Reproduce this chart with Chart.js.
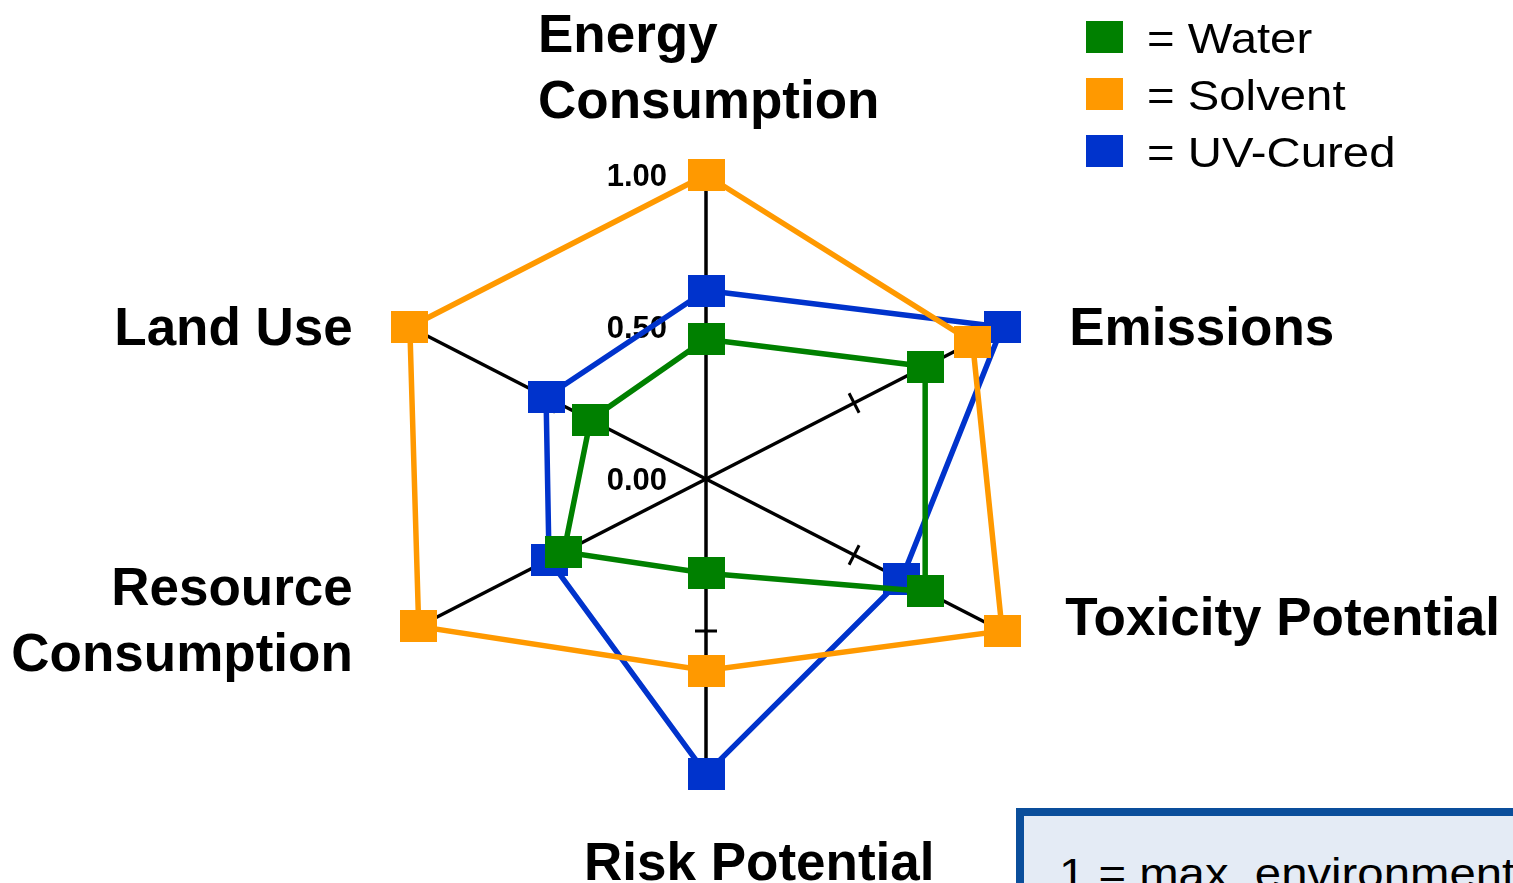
<!DOCTYPE html>
<html>
<head>
<meta charset="utf-8">
<title>Environmental profile of coating systems</title>
<script src="https://cdn.jsdelivr.net/npm/chart.js@4.4.1/dist/chart.umd.min.js"></script>
<style>
  html, body { margin: 0; padding: 0; background: #fff; overflow: hidden; }
  #wrap { position: relative; width: 1513px; height: 883px; overflow: hidden; }
  #radar { position: absolute; left: 0; top: 0; }
  #legend { position: absolute; left: 1086px; top: 21px; font-family: "Liberation Sans", Arial, sans-serif; }
  #legend .item { position: relative; height: 57px; width: 400px; }
  #legend .swatch { position: absolute; left: 0; top: 0; width: 37px; height: 32px; }
  #legend .name { position: absolute; left: 61px; top: -4px; font-size: 43px; line-height: 43px;
                  white-space: nowrap; transform: scaleX(1.1); transform-origin: left center; }
  #note { position: absolute; left: 1016px; top: 808px; width: 700px; height: 200px; box-sizing: border-box;
          border: 8px solid #0A4E9B; background: #E4EBF5; padding: 36px 0 0 35px;
          font-family: "Liberation Sans", Arial, sans-serif; font-size: 43px; line-height: 43px; }
  #note span { display: inline-block; white-space: nowrap; transform: scaleX(1.1); transform-origin: left center; }
</style>
</head>
<body>
<div id="wrap">
  <canvas id="radar" width="1513" height="883"></canvas>
  <div id="legend"></div>
  <div id="note"><span>1 = max. environmental impact</span></div>
</div>
<script>
// impact categories, clockwise from the top
const LABELS = [
  ["Energy", "Consumption"],
  "Emissions",
  "Toxicity Potential",
  "Risk Potential",
  ["Resource", "Consumption"],
  "Land Use",
];

// normalised impact per coating system (1 = max.)
const WATER = [0.46, 0.74, 0.74, 0.31, 0.48, 0.39];
const SOLVENT = [1.00, 0.90, 1.00, 0.63, 0.97, 1.00];
const UV_CURED = [0.62, 1.00, 0.66, 0.97, 0.53, 0.54];

const SERIES_NAMES = ["Water", "Solvent", "UV-Cured"];
const SERIES_COLORS = ["#008000", "#FF9900", "#0033CC"];

const TICK_VALUES = [1, 0.5, 0];
const TICK_LABELS = ["1.00", "0.50", "0.00"];

// the web is drawn a bit wider than it is tall
const X_STRETCH = 1.125;

class WideRadialScale extends Chart.RadialLinearScale {
  getPointPosition(index, distanceFromCenter, additionalAngle = 0) {
    const pos = super.getPointPosition(index, distanceFromCenter, additionalAngle);
    pos.x = this.xCenter + (pos.x - this.xCenter) * X_STRETCH;
    return pos;
  }
}
WideRadialScale.id = "wideRadial";
WideRadialScale.defaults = Chart.RadialLinearScale.defaults;
Chart.register(WideRadialScale);

// filled block used as point marker
function blockMarker(color) {
  const c = document.createElement("canvas");
  c.width = 37;
  c.height = 32;
  const g = c.getContext("2d");
  g.fillStyle = color;
  g.fillRect(0, 0, c.width, c.height);
  return c;
}

// where each axis title sits, relative to the end of its axis
const TITLE_PLACEMENT = [
  { dx: -168, dy: -123, align: "left" },
  { dx: 67, dy: 18, align: "left" },
  { dx: 63, dy: 4, align: "left" },
  { dx: -122, dy: 97, align: "left" },
  { dx: -57, dy: -26, align: "right" },
  { dx: -57, dy: 18, align: "right" },
];

const axisExtras = {
  id: "axisExtras",
  beforeDatasetsDraw(chart) {
    const r = chart.scales.r;
    const ctx = chart.ctx;
    ctx.save();

    // small cross marks at 0.5 on every axis
    ctx.strokeStyle = "#000";
    ctx.lineWidth = 3;
    const half = r.getDistanceFromCenterForValue(0.5);
    for (let i = 0; i < LABELS.length; i++) {
      const p = r.getPointPosition(i, half);
      const a = Math.atan2(p.y - r.yCenter, p.x - r.xCenter) + Math.PI / 2;
      const dx = Math.cos(a) * 11, dy = Math.sin(a) * 11;
      ctx.beginPath();
      ctx.moveTo(p.x - dx, p.y - dy);
      ctx.lineTo(p.x + dx, p.y + dy);
      ctx.stroke();
    }

    // scale values next to the top axis
    ctx.fillStyle = "#000";
    ctx.font = 'bold 31px "Liberation Sans", Arial, sans-serif';
    ctx.textAlign = "right";
    ctx.textBaseline = "alphabetic";
    TICK_VALUES.forEach((v, k) => {
      const p = r.getPointPosition(0, r.getDistanceFromCenterForValue(v));
      ctx.fillText(TICK_LABELS[k], p.x - 39, p.y + 11);
    });

    // axis titles
    ctx.font = 'bold 53px "Liberation Sans", Arial, sans-serif';
    LABELS.forEach((label, i) => {
      const end = r.getPointPosition(i, r.drawingArea);
      const place = TITLE_PLACEMENT[i];
      const lines = Array.isArray(label) ? label : [label];
      ctx.textAlign = place.align;
      lines.forEach((line, n) => {
        ctx.fillText(line, end.x + place.dx, end.y + place.dy + n * 66);
      });
    });

    ctx.restore();
  },
};

const data_radar = {
  labels: LABELS,
  datasets: [WATER, SOLVENT, UV_CURED].map((values, i) => ({
    label: SERIES_NAMES[i],
    data: values,
    borderColor: SERIES_COLORS[i],
    backgroundColor: SERIES_COLORS[i],
    borderWidth: 5.5,
    fill: false,
    tension: 0,
    clip: false,
    pointStyle: blockMarker(SERIES_COLORS[i]),
    pointRadius: 18,
    pointHoverRadius: 18,
  })),
};

const config_radar = {
  type: "radar",
  data: data_radar,
  options: {
    responsive: false,
    animation: false,
    layout: { padding: { left: 0, right: 101, top: 175, bottom: 100 } },
    plugins: {
      legend: { display: false },
      tooltip: { enabled: false },
    },
    scales: {
      r: {
        type: "wideRadial",
        min: 0,
        max: 1,
        grid: { display: false },
        angleLines: { display: true, color: "#000", lineWidth: 3.5 },
        ticks: { display: false, stepSize: 0.5 },
        pointLabels: { display: false },
      },
    },
  },
  plugins: [axisExtras],
};

const myChart_radar = new Chart(document.getElementById("radar"), config_radar);

// legend, built from the series
const legend = document.getElementById("legend");
SERIES_NAMES.forEach((name, i) => {
  const item = document.createElement("div");
  item.className = "item";
  const sw = document.createElement("div");
  sw.className = "swatch";
  sw.style.background = SERIES_COLORS[i];
  const txt = document.createElement("div");
  txt.className = "name";
  txt.textContent = "= " + name;
  item.appendChild(sw);
  item.appendChild(txt);
  legend.appendChild(item);
});
</script>
</body>
</html>
